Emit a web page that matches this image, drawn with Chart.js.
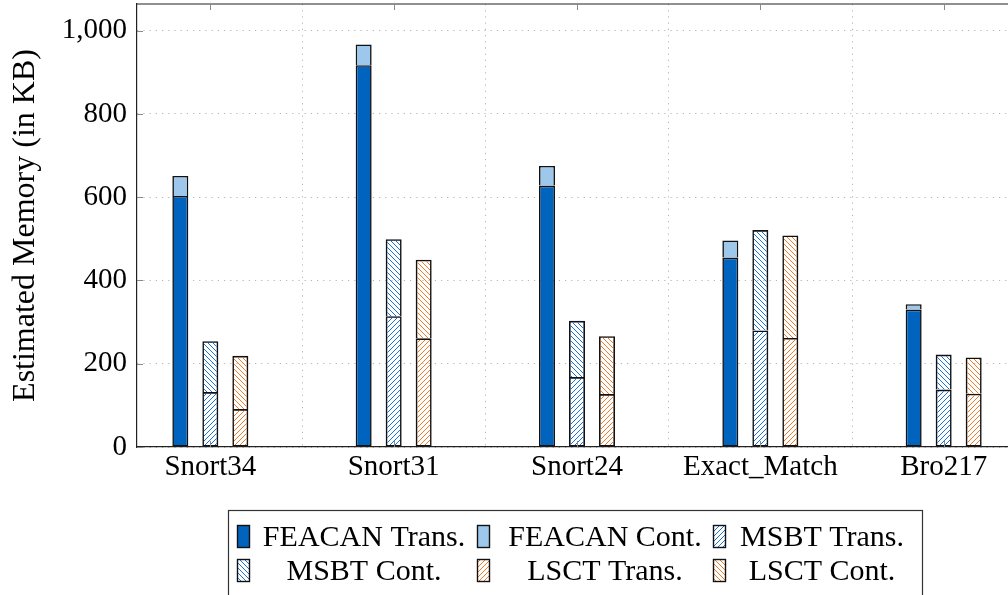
<!DOCTYPE html>
<html>
<head>
<meta charset="utf-8">
<script src="https://cdn.jsdelivr.net/npm/chart.js@4.4.1/dist/chart.umd.min.js"></script>
<style>
  html, body { margin: 0; padding: 0; background: #fff; overflow: hidden; }
  #wrap { width: 1008px; height: 595px; overflow: hidden; position: relative; }
  canvas { display: block; }
</style>
</head>
<body>
<div id="wrap"><canvas id="chart" width="1030" height="595"></canvas></div>
<script>
// Estimated memory per rule set, in KB
const categories  = ['Snort34', 'Snort31', 'Snort24', 'Exact_Match', 'Bro217'];
const feacanTrans = [603, 917, 628, 455, 330];
const feacanCont  = [48, 50, 47, 41, 13];
const msbtTrans   = [132, 314, 168, 280, 138];
const msbtCont    = [122, 185, 135, 241, 84];
const lsctTrans   = [91, 261, 127, 262, 128];
const lsctCont    = [128, 189, 139, 246, 87];
const yTicks      = [0, 200, 400, 600, 800, 1000];
const yMax        = 1064;

const SERIF = '"Liberation Serif", "Times New Roman", serif';
const canvas = document.getElementById('chart');
const ctx = canvas.getContext('2d');

// Diagonal line fill, 'ne' = north-east lines, 'nw' = north-west lines
function hatch(color, dir) {
  const s = 5;
  const c = document.createElement('canvas');
  c.width = s; c.height = s;
  const g = c.getContext('2d');
  g.strokeStyle = color;
  g.lineWidth = 1;
  g.beginPath();
  if (dir === 'ne') {
    g.moveTo(0, s); g.lineTo(s, 0);
    g.moveTo(-1, 1); g.lineTo(1, -1);
    g.moveTo(s - 1, s + 1); g.lineTo(s + 1, s - 1);
  } else {
    g.moveTo(0, 0); g.lineTo(s, s);
    g.moveTo(-1, s - 1); g.lineTo(1, s + 1);
    g.moveTo(s - 1, -1); g.lineTo(s + 1, 1);
  }
  g.stroke();
  return ctx.createPattern(c, 'repeat');
}

const BLUE = '#1a73d9';
const ORANGE = '#f07a28';
const pts = arr => arr.map((v, i) => ({ x: i, y: v }));

// Frame (top/right) and inward tick marks in the pgfplots style
const framePlugin = {
  id: 'frame',
  afterDatasetsDraw(chart) {
    const { ctx, chartArea: a, scales } = chart;
    ctx.save();
    ctx.strokeStyle = '#222';
    ctx.lineWidth = 1.2;
    ctx.beginPath();
    ctx.moveTo(a.left, a.top); ctx.lineTo(a.right, a.top); ctx.lineTo(a.right, a.bottom);
    ctx.stroke();
    ctx.strokeStyle = '#8a8a8a';
    ctx.lineWidth = 1;
    ctx.beginPath();
    scales.y.ticks.forEach(t => {
      const y = Math.round(scales.y.getPixelForValue(t.value)) + 0.5;
      ctx.moveTo(a.left, y); ctx.lineTo(a.left + 6, y);
      ctx.moveTo(a.right, y); ctx.lineTo(a.right - 6, y);
    });
    scales.x.ticks.forEach(t => {
      const x = Math.round(scales.x.getPixelForValue(t.value)) + 0.5;
      ctx.moveTo(x, a.bottom); ctx.lineTo(x, a.bottom - 6);
      ctx.moveTo(x, a.top); ctx.lineTo(x, a.top + 6);
    });
    ctx.stroke();
    ctx.restore();
  }
};

// Boxed legend laid out as a 3-column table
const legendBox = { left: 228.5, top: 510.5, right: 922.5, bottom: 610 };
const legendIconX = [237, 477, 713];
const legendTextX = [364, 605, 822];
const legendRowY = [537, 571];
const legendPlugin = {
  id: 'boxLegend',
  afterDraw(chart) {
    const { ctx } = chart;
    ctx.save();
    ctx.fillStyle = '#fff';
    ctx.strokeStyle = '#333';
    ctx.lineWidth = 1.2;
    ctx.fillRect(legendBox.left, legendBox.top, legendBox.right - legendBox.left, legendBox.bottom - legendBox.top);
    ctx.strokeRect(legendBox.left, legendBox.top, legendBox.right - legendBox.left, legendBox.bottom - legendBox.top);
    chart.data.datasets.forEach((ds, i) => {
      const col = i % 3, row = Math.floor(i / 3);
      const x = legendIconX[col] + 0.5, y = legendRowY[row] - 11.5;
      ctx.fillStyle = ds.backgroundColor;
      ctx.fillRect(x, y, 12, 22);
      ctx.strokeStyle = '#111';
      ctx.lineWidth = 1.4;
      ctx.strokeRect(x, y, 12, 22);
      ctx.fillStyle = '#000';
      ctx.font = '30px ' + SERIF;
      ctx.textAlign = 'center';
      ctx.textBaseline = 'middle';
      ctx.fillText(ds.label, legendTextX[col], legendRowY[row] + 1);
    });
    ctx.restore();
  }
};

const gridDash = [1.2, 5];
// Upper segments skip their bottom edge so the joint shows a single line
const upper = { borderSkipped: 'start' };
new Chart(ctx, {
  type: 'bar',
  data: {
    datasets: [
      { label: 'FEACAN Trans.', data: pts(feacanTrans), stack: 'feacan', backgroundColor: '#0063be' },
      { label: 'FEACAN Cont.',  data: pts(feacanCont),  stack: 'feacan', backgroundColor: '#9dc8eb', ...upper },
      { label: 'MSBT Trans.',   data: pts(msbtTrans),   stack: 'msbt',   backgroundColor: hatch(BLUE, 'ne') },
      { label: 'MSBT Cont.',    data: pts(msbtCont),    stack: 'msbt',   backgroundColor: hatch(BLUE, 'nw'), ...upper },
      { label: 'LSCT Trans.',   data: pts(lsctTrans),   stack: 'lsct',   backgroundColor: hatch(ORANGE, 'ne') },
      { label: 'LSCT Cont.',    data: pts(lsctCont),    stack: 'lsct',   backgroundColor: hatch(ORANGE, 'nw'), ...upper }
    ]
  },
  options: {
    responsive: false,
    animation: false,
    devicePixelRatio: 1,
    layout: { padding: { top: 4, left: 0, right: 13, bottom: 0 } },
    datasets: {
      bar: {
        categoryPercentage: 0.491,
        barPercentage: 0.533,
        borderWidth: 1.6,
        borderColor: '#111',
        borderSkipped: false
      }
    },
    scales: {
      x: {
        type: 'linear',
        min: -0.4,
        max: 4.4,
        offset: false,
        afterBuildTicks: s => { s.ticks = categories.map((c, i) => ({ value: i })); },
        afterFit: s => { s.height = 148; s.paddingLeft = 0; s.paddingRight = 0; },
        ticks: {
          callback: v => categories[v],
          font: { family: SERIF, size: 29 },
          color: '#000',
          padding: 3,
          autoSkip: false,
          maxRotation: 0
        },
        grid: { color: '#b5b5b5', lineWidth: 1, drawTicks: false },
        border: { color: '#222', width: 1.2, dash: gridDash }
      },
      y: {
        stacked: true,
        min: 0,
        max: yMax,
        afterBuildTicks: s => { s.ticks = yTicks.map(v => ({ value: v })); },
        afterFit: s => { s.width = 137; s.paddingTop = 0; s.paddingBottom = 0; },
        ticks: {
          callback: v => v.toLocaleString('en-US'),
          font: { family: SERIF, size: 29 },
          color: '#000',
          padding: 10
        },
        grid: { color: '#b5b5b5', lineWidth: 1, drawTicks: false },
        border: { color: '#222', width: 1.2, dash: gridDash },
        title: {
          display: true,
          text: 'Estimated Memory (in KB)',
          font: { family: SERIF, size: 32 },
          color: '#000',
          padding: { top: 6, bottom: 0 }
        }
      }
    },
    plugins: { legend: { display: false }, tooltip: { enabled: false } }
  },
  plugins: [framePlugin, legendPlugin]
});
</script>
</body>
</html>
